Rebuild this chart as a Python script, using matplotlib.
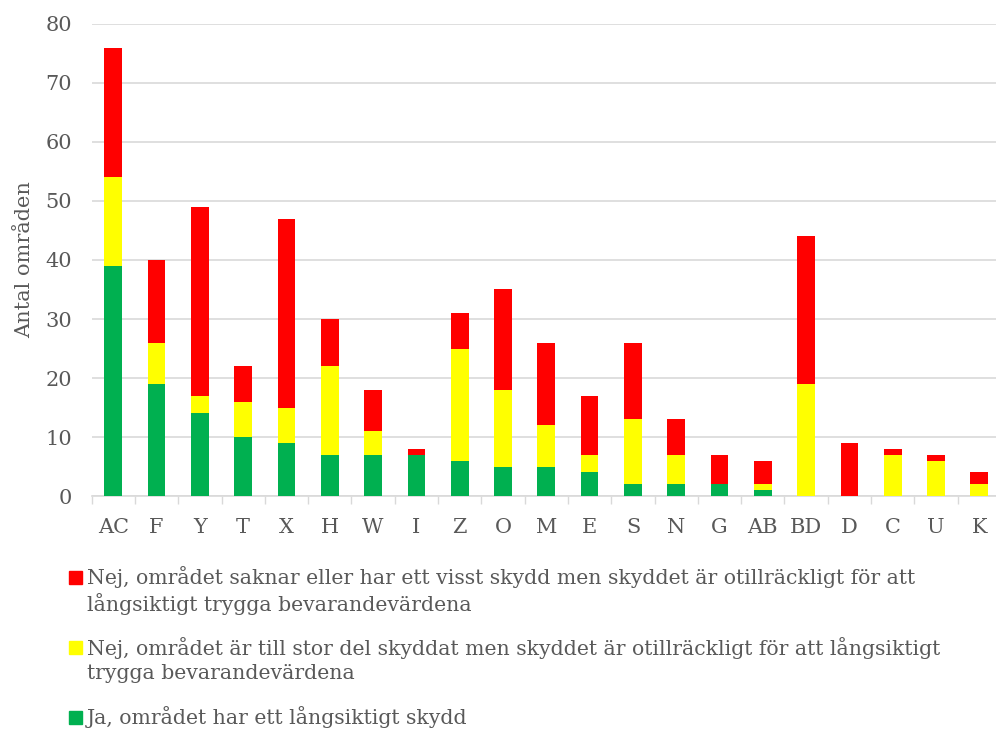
import matplotlib.pyplot as plt
import numpy as np
from matplotlib.patches import Rectangle

plt.rcParams['font.family'] = ['DejaVu Serif']

categories = ['AC', 'F', 'Y', 'T', 'X', 'H', 'W', 'I', 'Z', 'O', 'M',
              'E', 'S', 'N', 'G', 'AB', 'BD', 'D', 'C', 'U', 'K']
ja = [39, 19, 14, 10, 9, 7, 7, 7, 6, 5, 5, 4, 2, 2, 2, 1, 0, 0, 0, 0, 0]
nej_stor = [15, 7, 3, 6, 6, 15, 4, 0, 19, 13, 7, 3, 11, 5, 0, 1, 19, 0, 7, 6, 2]
nej_saknar = [22, 14, 32, 6, 32, 8, 7, 1, 6, 17, 14, 10, 13, 6, 5, 4, 25, 9, 1, 1, 2]

labels = ['Nej, området saknar eller har ett visst skydd men skyddet är otillräckligt för att\nlångsiktigt trygga bevarandevärdena',
          'Nej, området är till stor del skyddat men skyddet är otillräckligt för att långsiktigt\ntrygga bevarandevärdena',
          'Ja, området har ett långsiktigt skydd']
colors = ['#ff0000', '#ffff00', '#00b050']
textcol = '#595959'

fig = plt.figure(figsize=(9.96, 7.29), dpi=100)
ax = fig.add_axes([0.092, 0.3196, 0.913, 0.6475])

x = np.arange(len(categories))
w = 0.41
ja = np.array(ja)
nej_stor = np.array(nej_stor)
nej_saknar = np.array(nej_saknar)
ax.bar(x, ja, w, color=colors[2], zorder=3)
ax.bar(x, nej_stor, w, bottom=ja, color=colors[1], zorder=3)
ax.bar(x, nej_saknar, w, bottom=ja + nej_stor, color=colors[0], zorder=3)

ax.set_xlim(-0.5, len(categories) - 0.5)
ax.set_ylim(0, 80)
ax.set_yticks(range(0, 81, 10))
ax.set_xticks(x)
ax.set_xticklabels(categories)
ax.set_xticks(np.arange(-0.5, len(categories), 1), minor=True)
ax.tick_params(axis='x', which='major', length=0, pad=16, labelsize=15, colors=textcol)
ax.tick_params(axis='x', which='minor', length=6, width=1, color='#d9d9d9')
ax.tick_params(axis='y', length=0, pad=14, labelsize=15, colors=textcol)
ax.grid(axis='y', color='#d9d9d9', lw=1.2, zorder=0)
for s in ['top', 'right', 'left']:
    ax.spines[s].set_visible(False)
ax.spines['bottom'].set_color('#d9d9d9')
ax.spines['bottom'].set_linewidth(1.2)
ax.set_ylabel('Antal områden', fontsize=15, color=textcol, labelpad=8)

# legend drawn by hand: (y of square centre, y of text block centre) in px
pos = [(577, 590.5), (647, 660), (717, 717)]
for lab, c, (sy, ty) in zip(labels, colors, pos):
    fig.patches.append(Rectangle((69 / 996, 1 - (sy + 6.5) / 729), 13 / 996, 13 / 729,
                                 transform=fig.transFigure, color=c))
    fig.text(87 / 996, 1 - ty / 729, lab, fontsize=14.7, color=textcol,
             va='center', ha='left', linespacing=1.33)

fig.savefig('out.png', dpi=100)
